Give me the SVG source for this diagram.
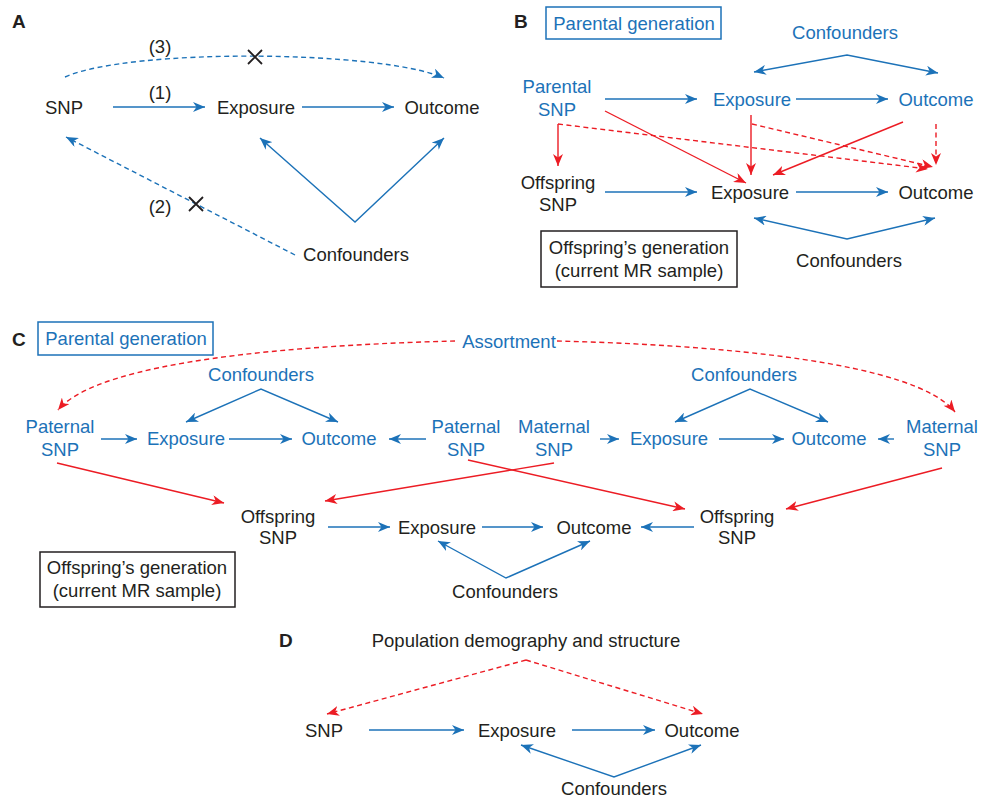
<svg xmlns="http://www.w3.org/2000/svg" width="982" height="800" viewBox="0 0 982 800">
  <style>
    text { font-family: "Liberation Sans", Arial, sans-serif; font-size: 18.5px; fill: #231f20; }
    .b { fill: #1c72b8; }
    .mid { text-anchor: middle; }
    .lbl { font-weight: bold; font-size: 19px; }
    .ab { stroke: #1c72b8; stroke-width: 1.4; fill: none; marker-end: url(#hb); }
    .ab2 { stroke: #1c72b8; stroke-width: 1.4; fill: none; marker-start: url(#hbs); marker-end: url(#hb); }
    .ar { stroke: #ec1c24; stroke-width: 1.4; fill: none; marker-end: url(#hr); }
    .dash { stroke-dasharray: 5 3.5; }
    .x { stroke: #231f20; stroke-width: 1.8; }
    .boxb { fill: none; stroke: #1c72b8; stroke-width: 1.5; }
    .boxk { fill: none; stroke: #231f20; stroke-width: 1.5; }
  </style>
  <defs>
    <marker id="hb" markerUnits="userSpaceOnUse" markerWidth="12" markerHeight="10" viewBox="0 0 12 10" refX="12" refY="5" orient="auto">
      <path d="M0,0 L12,5 L0,10 L3.5,5 z" fill="#1c72b8"/>
    </marker>
    <marker id="hbs" markerUnits="userSpaceOnUse" markerWidth="12" markerHeight="10" viewBox="0 0 12 10" refX="12" refY="5" orient="auto-start-reverse">
      <path d="M0,0 L12,5 L0,10 L3.5,5 z" fill="#1c72b8"/>
    </marker>
    <marker id="hr" markerUnits="userSpaceOnUse" markerWidth="12" markerHeight="10" viewBox="0 0 12 10" refX="12" refY="5" orient="auto">
      <path d="M0,0 L12,5 L0,10 L3.5,5 z" fill="#ec1c24"/>
    </marker>
  </defs>

  <!-- panel letters -->
  <text class="lbl" x="12" y="28">A</text>
  <text class="lbl" x="514" y="28">B</text>
  <text class="lbl" x="12" y="346">C</text>
  <text class="lbl" x="279" y="647">D</text>

  <!-- ===== Panel A ===== -->
  <g id="a-snp"><text class="mid" x="64" y="114">SNP</text></g>
  <g id="a-exposure"><text class="mid" x="256" y="114">Exposure</text></g>
  <g id="a-outcome"><text class="mid" x="442" y="114">Outcome</text></g>
  <g id="a-confounders"><text class="mid" x="356" y="261">Confounders</text></g>
  <g id="a-labels">
    <text class="mid" x="160" y="99">(1)</text>
    <text class="mid" x="160" y="213">(2)</text>
    <text class="mid" x="160" y="53">(3)</text>
  </g>
  <g id="a-connectors">
    <line class="ab" x1="113" y1="107" x2="205" y2="107"/>
    <line class="ab" x1="302" y1="107" x2="394" y2="107"/>
    <polyline class="ab2" points="260,138 355,222 444,138"/>
    <path class="ab dash" d="M65,77 C130,48 380,50 444,78"/>
    <line class="ab dash" x1="295" y1="255" x2="66" y2="137"/>
    <path class="x" d="M248,50 L262,64 M262,50 L248,64"/>
    <path class="x" d="M189,197 L203,211 M203,197 L189,211"/>
  </g>

  <!-- ===== Panel B ===== -->
  <g id="b-parental-box">
    <rect class="boxb" x="546" y="7" width="175" height="32"/>
    <text class="b mid" x="634" y="30">Parental generation</text>
  </g>
  <g id="b-parent-confounders"><text class="b mid" x="845" y="39">Confounders</text></g>
  <g id="b-parental-snp">
    <text class="b mid" x="557" y="93">Parental</text>
    <text class="b mid" x="557" y="116">SNP</text>
  </g>
  <g id="b-parent-exposure"><text class="b mid" x="752" y="106">Exposure</text></g>
  <g id="b-parent-outcome"><text class="b mid" x="936" y="106">Outcome</text></g>
  <g id="b-offspring-snp">
    <text class="mid" x="558" y="189">Offspring</text>
    <text class="mid" x="558" y="211">SNP</text>
  </g>
  <g id="b-offspring-exposure"><text class="mid" x="750" y="199">Exposure</text></g>
  <g id="b-offspring-outcome"><text class="mid" x="936" y="199">Outcome</text></g>
  <g id="b-offspring-confounders"><text class="mid" x="849" y="267">Confounders</text></g>
  <g id="b-offspring-box">
    <rect class="boxk" x="541" y="231" width="196" height="56"/>
    <text class="mid" x="639" y="254">Offspring’s generation</text>
    <text class="mid" x="639" y="277">(current MR sample)</text>
  </g>
  <g id="b-connectors">
    <polyline class="ab2" points="754,72 847,55 938,73"/>
    <line class="ab" x1="605" y1="99" x2="697" y2="99"/>
    <line class="ab" x1="796" y1="99" x2="888" y2="99"/>
    <line class="ab" x1="605" y1="192" x2="697" y2="192"/>
    <line class="ab" x1="796" y1="192" x2="888" y2="192"/>
    <polyline class="ab2" points="754,218 847,239 935,218"/>
    <line class="ar" x1="605" y1="111" x2="746" y2="183"/>
    <polyline class="ar" points="558,124 558,166"/>
    <line class="ar" x1="751" y1="115" x2="751" y2="175"/>
    <line class="ar" x1="903" y1="122" x2="773" y2="175"/>
    <line class="ar dash" x1="558" y1="124" x2="928" y2="169"/>
    <line class="ar dash" x1="752" y1="124" x2="933" y2="167"/>
    <line class="ar dash" x1="936" y1="124" x2="936" y2="165"/>
  </g>

  <!-- ===== Panel C ===== -->
  <g id="c-parental-box">
    <rect class="boxb" x="38" y="322" width="175" height="33"/>
    <text class="b mid" x="126" y="345">Parental generation</text>
  </g>
  <g id="c-assortment"><text class="b mid" x="509" y="348">Assortment</text></g>
  <g id="c-confounders-left"><text class="b mid" x="261" y="381">Confounders</text></g>
  <g id="c-confounders-right"><text class="b mid" x="744" y="381">Confounders</text></g>
  <g id="c-paternal-snp-left">
    <text class="b mid" x="60" y="433">Paternal</text>
    <text class="b mid" x="60" y="456">SNP</text>
  </g>
  <g id="c-exposure-left"><text class="b mid" x="186" y="445">Exposure</text></g>
  <g id="c-outcome-left"><text class="b mid" x="339" y="445">Outcome</text></g>
  <g id="c-paternal-snp-mid">
    <text class="b mid" x="466" y="433">Paternal</text>
    <text class="b mid" x="466" y="456">SNP</text>
  </g>
  <g id="c-maternal-snp-mid">
    <text class="b mid" x="554" y="433">Maternal</text>
    <text class="b mid" x="554" y="456">SNP</text>
  </g>
  <g id="c-exposure-right"><text class="b mid" x="669" y="445">Exposure</text></g>
  <g id="c-outcome-right"><text class="b mid" x="829" y="445">Outcome</text></g>
  <g id="c-maternal-snp-right">
    <text class="b mid" x="942" y="433">Maternal</text>
    <text class="b mid" x="942" y="456">SNP</text>
  </g>
  <g id="c-offspring-snp-left">
    <text class="mid" x="278" y="523">Offspring</text>
    <text class="mid" x="278" y="544">SNP</text>
  </g>
  <g id="c-offspring-exposure"><text class="mid" x="437" y="534">Exposure</text></g>
  <g id="c-offspring-outcome"><text class="mid" x="594" y="534">Outcome</text></g>
  <g id="c-offspring-snp-right">
    <text class="mid" x="737" y="523">Offspring</text>
    <text class="mid" x="737" y="544">SNP</text>
  </g>
  <g id="c-offspring-confounders"><text class="mid" x="505" y="598">Confounders</text></g>
  <g id="c-offspring-box">
    <rect class="boxk" x="40" y="552" width="195" height="55"/>
    <text class="mid" x="137" y="574">Offspring’s generation</text>
    <text class="mid" x="137" y="597">(current MR sample)</text>
  </g>
  <g id="c-connectors">
    <path class="ar dash" d="M455,341 C300,345 100,360 58,410"/>
    <path class="ar dash" d="M557,341 C720,345 915,362 955,412"/>
    <polyline class="ab2" points="186,422 261,389 338,422"/>
    <polyline class="ab2" points="675,422 750,389 828,422"/>
    <line class="ab" x1="101" y1="439" x2="137" y2="439"/>
    <line class="ab" x1="229" y1="439" x2="292" y2="439"/>
    <line class="ab" x1="426" y1="439" x2="389" y2="439"/>
    <line class="ab" x1="600" y1="439" x2="619" y2="439"/>
    <line class="ab" x1="719" y1="439" x2="784" y2="439"/>
    <line class="ab" x1="894" y1="439" x2="878" y2="439"/>
    <line class="ar" x1="57" y1="463" x2="224" y2="503"/>
    <line class="ar" x1="554" y1="463" x2="325" y2="501"/>
    <line class="ar" x1="468" y1="460" x2="685" y2="509"/>
    <line class="ar" x1="942" y1="468" x2="786" y2="509"/>
    <line class="ab" x1="328" y1="527" x2="390" y2="527"/>
    <line class="ab" x1="482" y1="527" x2="543" y2="527"/>
    <line class="ab" x1="694" y1="527" x2="641" y2="527"/>
    <polyline class="ab2" points="438,541 506,578 590,541"/>
  </g>

  <!-- ===== Panel D ===== -->
  <g id="d-population"><text class="mid" x="526" y="647">Population demography and structure</text></g>
  <g id="d-snp"><text class="mid" x="324" y="737">SNP</text></g>
  <g id="d-exposure"><text class="mid" x="517" y="737">Exposure</text></g>
  <g id="d-outcome"><text class="mid" x="702" y="737">Outcome</text></g>
  <g id="d-confounders"><text class="mid" x="614" y="795">Confounders</text></g>
  <g id="d-connectors">
    <line class="ar dash" x1="526" y1="660" x2="327" y2="714"/>
    <line class="ar dash" x1="526" y1="660" x2="703" y2="714"/>
    <line class="ab" x1="369" y1="730" x2="464" y2="730"/>
    <line class="ab" x1="572" y1="730" x2="655" y2="730"/>
    <polyline class="ab2" points="521,745 614,777 701,745"/>
  </g>
</svg>
